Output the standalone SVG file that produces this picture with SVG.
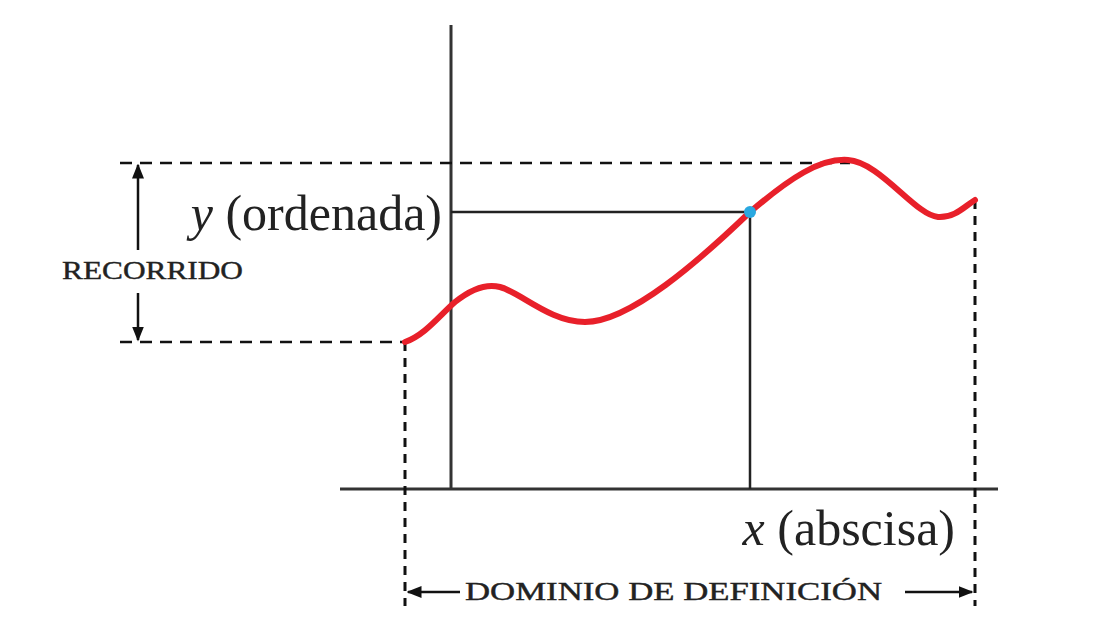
<svg xmlns="http://www.w3.org/2000/svg" width="1114" height="629" viewBox="0 0 1114 629">
<style>
.axis{stroke:#333;stroke-width:3;fill:none}
.solid{stroke:#222;stroke-width:2.5;fill:none}
.dash{stroke:#111;stroke-width:2.5;fill:none;stroke-dasharray:12 8}
.dashv{stroke:#111;stroke-width:3;fill:none;stroke-dasharray:9 7}
.arr{stroke:#111;stroke-width:2.5;fill:none}
.lbl{font-family:"Liberation Serif",serif;font-size:50px;fill:#222}
.sc{font-family:"Liberation Serif",serif;font-size:25px;fill:#222;stroke:#222;stroke-width:0.4}
</style>
<defs>
<marker id="ah" viewBox="0 0 10 10" refX="9" refY="5" markerWidth="6" markerHeight="6" orient="auto-start-reverse" markerUnits="strokeWidth">
<path d="M0,1 L10,5 L0,9 Z" fill="#111"/>
</marker>
</defs>
<rect width="1114" height="629" fill="#fff"/>
<g id="axes">
<line class="axis" x1="451" y1="25" x2="451" y2="490"/>
<line class="axis" x1="340" y1="489" x2="998" y2="489"/>
</g>
<g id="connectors">
<line class="dash" x1="120" y1="163" x2="850" y2="163"/>
<line class="dash" x1="120" y1="342" x2="405" y2="342"/>
<line class="dashv" x1="405" y1="342" x2="405" y2="606"/>
<line class="dashv" x1="975" y1="200" x2="975" y2="606"/>
<line class="solid" x1="451" y1="212" x2="750" y2="212"/>
<line class="solid" x1="750" y1="212" x2="750" y2="489"/>
<line class="arr" x1="138" y1="250" x2="138" y2="165" marker-end="url(#ah)"/>
<line class="arr" x1="138" y1="293" x2="138" y2="340" marker-end="url(#ah)"/>
<line class="arr" x1="460" y1="592" x2="408" y2="592" marker-end="url(#ah)"/>
<line class="arr" x1="905" y1="592" x2="972" y2="592" marker-end="url(#ah)"/>
</g>
<g id="curve">
<path d="M405,342 C425,335 440,315 455,302 C470,290 485,283 500,287 C520,292 550,322 585,322 C630,322 700,260 750,212 C790,178 820,158 848,160 C880,162 915,215 938,217 C955,218 965,206 975,200" stroke="#e8202a" stroke-width="6" fill="none" stroke-linecap="round"/>
</g>
<g id="point">
<circle cx="750" cy="212" r="6" fill="#2aa8e0"/>
</g>
<g id="label-y">
<text class="lbl" x="442" y="230" text-anchor="end"><tspan font-style="italic">y</tspan> (ordenada)</text>
</g>
<g id="label-x">
<text class="lbl" x="955" y="545" text-anchor="end"><tspan font-style="italic">x</tspan> (abscisa)</text>
</g>
<g id="label-recorrido">
<text class="sc" x="62" y="279" textLength="181" lengthAdjust="spacingAndGlyphs">RECORRIDO</text>
</g>
<g id="label-dominio">
<text class="sc" x="465" y="600" textLength="417" lengthAdjust="spacingAndGlyphs">DOMINIO DE DEFINICIÓN</text>
</g>
</svg>
